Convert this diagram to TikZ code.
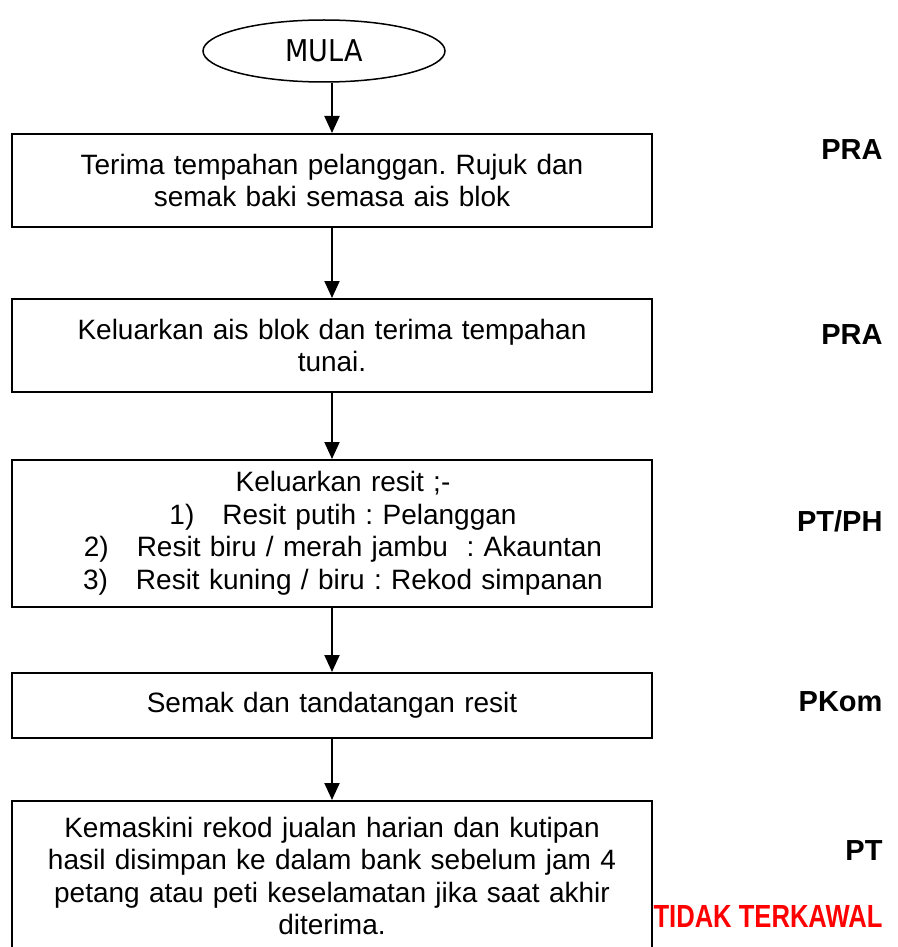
\documentclass[tikz,border=0pt]{standalone}
\usepackage{fontspec}
\setmainfont{Liberation Sans}
\newfontfamily\mulafont{DejaVu Sans Condensed}
\newfontfamily\narrowbold[FakeStretch=0.8]{Liberation Sans Bold}
\usetikzlibrary{arrows.meta,shapes.geometric}
\frenchspacing
\tikzset{
  stepbox/.style={draw,line width=2pt,text width=620pt,inner xsep=10pt,
    inner ysep=0pt,align=center,font=\fontsize{28}{32.5}\selectfont},
  flowarrow/.style={line width=2pt,-{Triangle[length=17pt,width=15pt]}},
  who/.style={anchor=east,font=\fontsize{29}{32}\selectfont\bfseries}
}
\begin{document}
\begin{tikzpicture}[x=1pt,y=-1pt]
  \useasboundingbox (0,0) rectangle (897,947);
  %% start
  \node[draw,ellipse,line width=1.5pt,minimum width=242pt,minimum height=62pt,
    inner sep=0pt,font=\mulafont\fontsize{30}{32}\selectfont] (mula) at (324,51) {MULA};
  %% steps
  \node[stepbox,minimum height=93pt] (terima) at (332,180.5)
    {Terima tempahan pelanggan. Rujuk dan\\ semak baki semasa ais blok};
  \node[stepbox,minimum height=93pt] (keluar) at (332,345.5)
    {Keluarkan ais blok dan terima tempahan\\ tunai.};
  \node[stepbox,minimum height=147pt] (resit) at (332,533.5)
    {\hspace*{22pt}Keluarkan resit ;-\\
     \hspace*{22pt}1)\ \ \ Resit putih : Pelanggan\\
     \hspace*{22pt}2)\ \ \ Resit biru / merah jambu\ \ : Akauntan\\
     \hspace*{22pt}3)\ \ \ Resit kuning / biru : Rekod simpanan};
  \node[stepbox,minimum height=65pt] (semak) at (332,705.5)
    {Semak dan tandatangan resit};
  \node[stepbox,minimum height=150pt] (kemaskini) at (332,876)
    {Kemaskini rekod jualan harian dan kutipan\\ hasil disimpan ke dalam bank sebelum jam 4\\
     petang atau peti keselamatan jika saat akhir\\ diterima.};
  %% arrows
  \draw[flowarrow] (mula.south -| terima.north) -- (terima.north);
  \draw[flowarrow] (terima) -- (keluar);
  \draw[flowarrow] (keluar) -- (resit);
  \draw[flowarrow] (resit) -- (semak);
  \draw[flowarrow] (semak) -- (kemaskini);
  %% who does it
  \node[who] (praA) at (886,150) {PRA};
  \node[who] (praB) at (886,335) {PRA};
  \node[who] (ptph) at (886,521) {PT/PH};
  \node[who] (pkom) at (886,702) {PKom};
  \node[who] (pt) at (886,851) {PT};
  \node[anchor=east,text=red,font=\narrowbold\fontsize{32}{34}\selectfont]
    (tidak) at (886,916) {TIDAK TERKAWAL};
\end{tikzpicture}
\end{document}
